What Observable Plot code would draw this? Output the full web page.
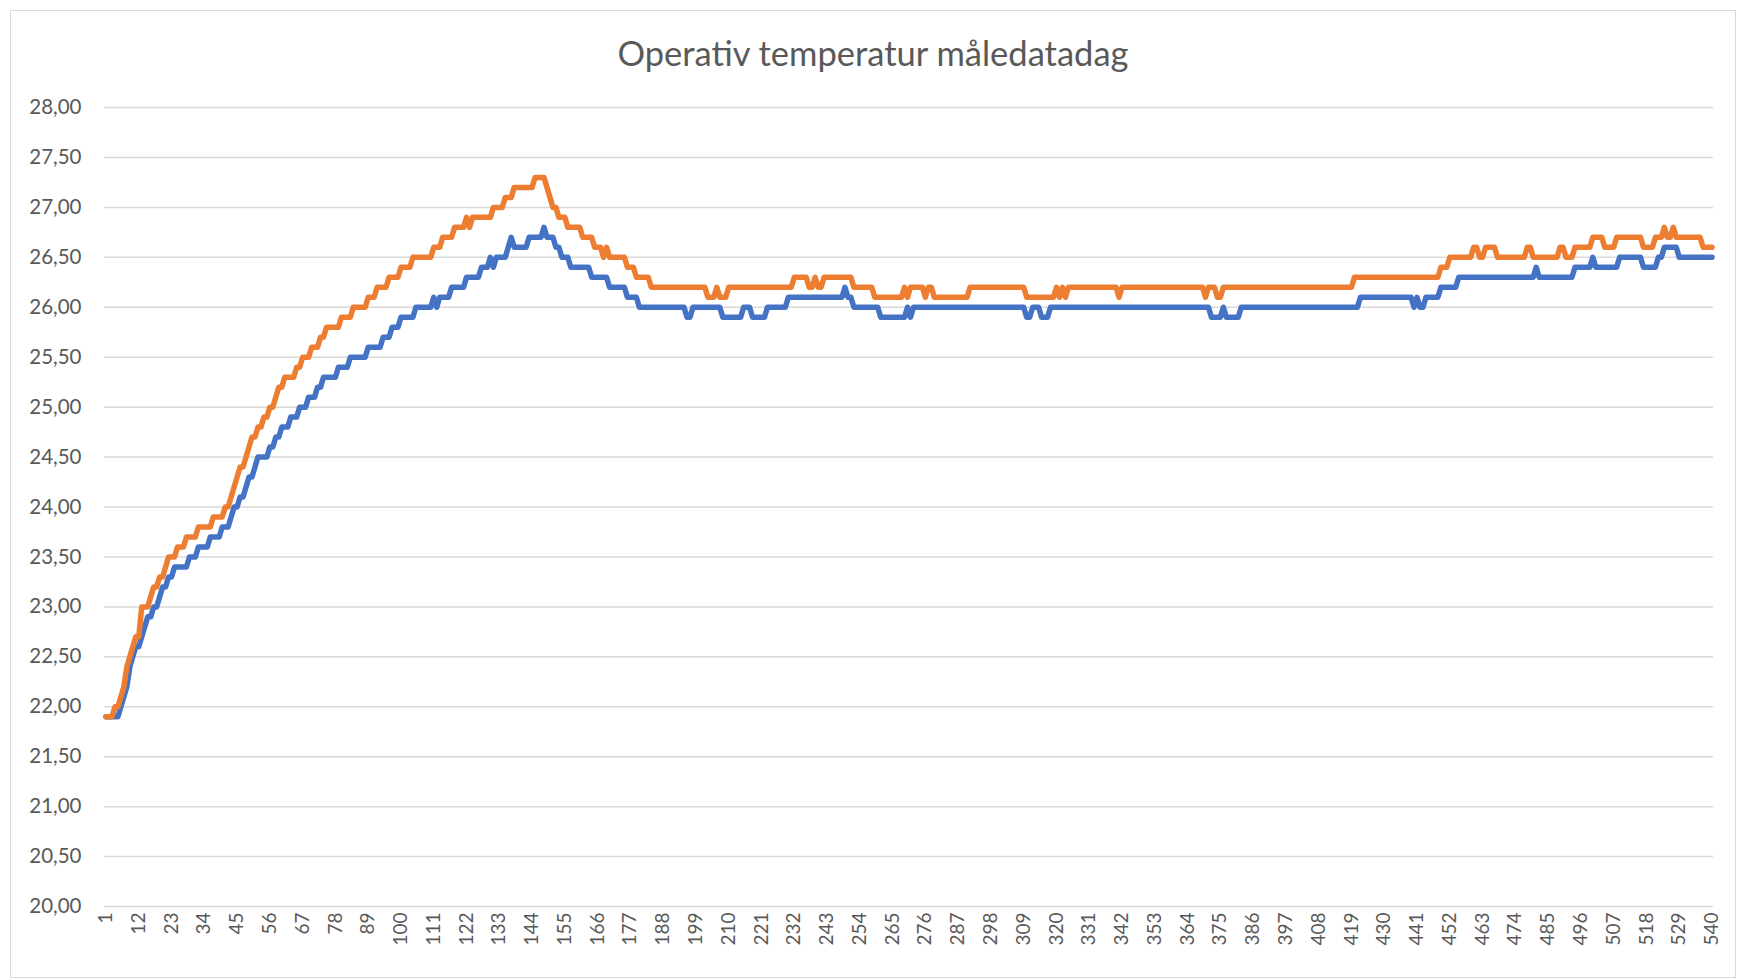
<!DOCTYPE html>
<html>
<head>
<meta charset="utf-8">
<script src="https://cdn.jsdelivr.net/npm/d3@7"></script>
<script src="https://cdn.jsdelivr.net/npm/@observablehq/plot@0.6"></script>
<style>
  html, body { margin: 0; padding: 0; background: #fff; }
  #wrap { position: relative; width: 1738px; height: 980px; overflow: hidden; }
  #frame { position: absolute; left: 10px; top: 10px; width: 1724px; height: 966px; border: 1.5px solid #d9d9d9; pointer-events: none; }
  #title { margin-left: 10px; width: 1726px; height: 80px; box-sizing: border-box; padding-top: 32px;
           text-align: center; font-family: Lato, "Open Sans", sans-serif; font-size: 34.5px; line-height: 42px; color: #595959; }
  #chart svg g[aria-label="y-axis tick label"] text { font-size: 20.5px; }
</style>
</head>
<body>
<div id="wrap">
  <div id="frame"></div>
  <div id="title">Operativ temperatur måledatadag</div>
  <div id="chart"></div>
</div>
<script>
// Run-length readings: [last index of run, value]
const orangeRuns = [[3,21.9],[5,22.0],[6,22.1],[7,22.2],[8,22.4],[9,22.5],[10,22.6],[12,22.7],[15,23.0],[16,23.1],[18,23.2],[20,23.3],[21,23.4],[24,23.5],[27,23.6],[31,23.7],[36,23.8],[40,23.9],[42,24.0],[43,24.1],[44,24.2],[45,24.3],[47,24.4],[48,24.5],[49,24.6],[51,24.7],[53,24.8],[55,24.9],[57,25.0],[58,25.1],[60,25.2],[64,25.3],[66,25.4],[69,25.5],[72,25.6],[74,25.7],[79,25.8],[83,25.9],[88,26.0],[91,26.1],[95,26.2],[99,26.3],[103,26.4],[110,26.5],[113,26.6],[117,26.7],[121,26.8],[122,26.9],[123,26.8],[130,26.9],[134,27.0],[137,27.1],[144,27.2],[148,27.3],[149,27.2],[150,27.1],[152,27.0],[155,26.9],[160,26.8],[164,26.7],[167,26.6],[168,26.5],[169,26.6],[175,26.5],[178,26.4],[183,26.3],[202,26.2],[205,26.1],[206,26.2],[209,26.1],[231,26.2],[236,26.3],[238,26.2],[239,26.3],[241,26.2],[251,26.3],[258,26.2],[268,26.1],[269,26.2],[270,26.1],[275,26.2],[276,26.1],[278,26.2],[290,26.1],[309,26.2],[319,26.1],[320,26.2],[321,26.1],[322,26.2],[323,26.1],[340,26.2],[341,26.1],[369,26.2],[370,26.1],[373,26.2],[375,26.1],[419,26.2],[448,26.3],[451,26.4],[459,26.5],[461,26.6],[463,26.5],[467,26.6],[477,26.5],[479,26.6],[488,26.5],[490,26.6],[493,26.5],[499,26.6],[503,26.7],[507,26.6],[516,26.7],[520,26.6],[523,26.7],[524,26.8],[526,26.7],[527,26.8],[536,26.7],[540,26.6]];

const blueRuns = [[5,21.9],[6,22.0],[7,22.1],[8,22.2],[9,22.4],[10,22.5],[12,22.6],[13,22.7],[14,22.8],[16,22.9],[18,23.0],[19,23.1],[21,23.2],[23,23.3],[28,23.4],[31,23.5],[35,23.6],[39,23.7],[42,23.8],[43,23.9],[45,24.0],[47,24.1],[48,24.2],[50,24.3],[51,24.4],[55,24.5],[57,24.6],[59,24.7],[62,24.8],[65,24.9],[68,25.0],[71,25.1],[73,25.2],[78,25.3],[82,25.4],[88,25.5],[93,25.6],[96,25.7],[99,25.8],[104,25.9],[110,26.0],[111,26.1],[112,26.0],[116,26.1],[121,26.2],[126,26.3],[129,26.4],[130,26.5],[131,26.4],[135,26.5],[136,26.6],[137,26.7],[142,26.6],[147,26.7],[148,26.8],[151,26.7],[153,26.6],[156,26.5],[163,26.4],[169,26.3],[175,26.2],[179,26.1],[195,26.0],[197,25.9],[207,26.0],[214,25.9],[217,26.0],[222,25.9],[229,26.0],[248,26.1],[249,26.2],[251,26.1],[260,26.0],[269,25.9],[270,26.0],[271,25.9],[309,26.0],[311,25.9],[314,26.0],[317,25.9],[371,26.0],[375,25.9],[376,26.0],[381,25.9],[421,26.0],[439,26.1],[440,26.0],[441,26.1],[443,26.0],[448,26.1],[454,26.2],[480,26.3],[481,26.4],[493,26.3],[499,26.4],[500,26.5],[508,26.4],[516,26.5],[521,26.4],[523,26.5],[528,26.6],[540,26.5]];

const xTickLabels = [1,12,23,34,45,56,67,78,89,100,111,122,133,144,155,166,177,188,199,210,221,232,243,254,265,276,287,298,309,320,331,342,353,364,375,386,397,408,419,430,441,452,463,474,485,496,507,518,529,540];
const yTicks = [20,20.5,21,21.5,22,22.5,23,23.5,24,24.5,25,25.5,26,26.5,27,27.5,28];
const titleText = "Operativ temperatur måledatadag";

function expand(runs) {
  const out = [];
  let i = 1;
  for (const [end, v] of runs) {
    for (; i <= end; i++) out.push({i, v});
  }
  return out;
}
const orangeData = expand(orangeRuns);
const blueData = expand(blueRuns);

document.getElementById("title").textContent = titleText;

const chart = Plot.plot({
  width: 1738,
  height: 900,
  marginLeft: 104,
  marginRight: 25,
  marginTop: 27,
  marginBottom: 74,
  style: {fontFamily: "Lato, 'Open Sans', sans-serif", fontSize: "19px", color: "#595959", background: "white", overflow: "visible"},
  x: {type: "linear", domain: [0.5, 540.5]},
  y: {domain: [20, 28]},
  marks: [
    Plot.gridY(yTicks, {stroke: "#d9d9d9", strokeOpacity: 1, strokeWidth: 1.5}),
    Plot.axisY(yTicks, {tickSize: 0, tickPadding: 23, fontSize: 20.5, tickFormat: d => d.toFixed(2).replace(".", ","), label: null}),
    Plot.axisX(xTickLabels, {tickSize: 0, tickPadding: 6, tickRotate: -90, label: null}),
    Plot.line(blueData, {x: "i", y: "v", stroke: "#4472C4", strokeWidth: 5.5, strokeLinejoin: "round", strokeLinecap: "round"}),
    Plot.line(orangeData, {x: "i", y: "v", stroke: "#ED7D31", strokeWidth: 5.5, strokeLinejoin: "round", strokeLinecap: "round"})
  ]
});
document.getElementById("chart").appendChild(chart);
</script>
</body>
</html>
